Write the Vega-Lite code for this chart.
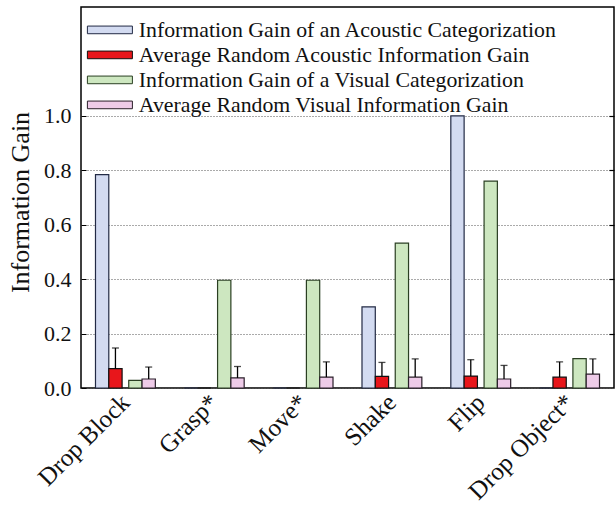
{
  "$schema": "https://vega.github.io/schema/vega-lite/v6.json",
  "width": 533,
  "height": 381,
  "autosize": {"type": "none"},
  "padding": {"left": 81, "top": 7, "right": 1, "bottom": 118},
  "background": "#ffffff",
  "config": {
    "font": "Liberation Serif",
    "view": {"stroke": "#000000", "strokeWidth": 1.5},
    "axis": {"labelColor": "#111111", "titleColor": "#111111", "labelFont": "Liberation Serif", "titleFont": "Liberation Serif"},
    "legend": {"labelFont": "Liberation Serif", "labelColor": "#111111"}
  },
  "data": {
    "values": [
      {"action": "Drop Block", "series": "Information Gain of an Acoustic Categorization", "value": 0.784, "upper": null},
      {"action": "Drop Block", "series": "Average Random Acoustic Information Gain", "value": 0.071, "upper": 0.147},
      {"action": "Drop Block", "series": "Information Gain of a Visual Categorization", "value": 0.028, "upper": null},
      {"action": "Drop Block", "series": "Average Random Visual Information Gain", "value": 0.033, "upper": 0.077},
      {"action": "Grasp*", "series": "Information Gain of an Acoustic Categorization", "value": 0, "upper": null},
      {"action": "Grasp*", "series": "Average Random Acoustic Information Gain", "value": 0, "upper": null},
      {"action": "Grasp*", "series": "Information Gain of a Visual Categorization", "value": 0.396, "upper": null},
      {"action": "Grasp*", "series": "Average Random Visual Information Gain", "value": 0.037, "upper": 0.079},
      {"action": "Move*", "series": "Information Gain of an Acoustic Categorization", "value": 0, "upper": null},
      {"action": "Move*", "series": "Average Random Acoustic Information Gain", "value": 0, "upper": null},
      {"action": "Move*", "series": "Information Gain of a Visual Categorization", "value": 0.396, "upper": null},
      {"action": "Move*", "series": "Average Random Visual Information Gain", "value": 0.040, "upper": 0.096},
      {"action": "Shake", "series": "Information Gain of an Acoustic Categorization", "value": 0.298, "upper": null},
      {"action": "Shake", "series": "Average Random Acoustic Information Gain", "value": 0.043, "upper": 0.094},
      {"action": "Shake", "series": "Information Gain of a Visual Categorization", "value": 0.532, "upper": null},
      {"action": "Shake", "series": "Average Random Visual Information Gain", "value": 0.040, "upper": 0.107},
      {"action": "Flip", "series": "Information Gain of an Acoustic Categorization", "value": 1.0, "upper": null},
      {"action": "Flip", "series": "Average Random Acoustic Information Gain", "value": 0.044, "upper": 0.104},
      {"action": "Flip", "series": "Information Gain of a Visual Categorization", "value": 0.760, "upper": null},
      {"action": "Flip", "series": "Average Random Visual Information Gain", "value": 0.033, "upper": 0.083},
      {"action": "Drop Object*", "series": "Information Gain of an Acoustic Categorization", "value": 0, "upper": null},
      {"action": "Drop Object*", "series": "Average Random Acoustic Information Gain", "value": 0.040, "upper": 0.096},
      {"action": "Drop Object*", "series": "Information Gain of a Visual Categorization", "value": 0.108, "upper": null},
      {"action": "Drop Object*", "series": "Average Random Visual Information Gain", "value": 0.051, "upper": 0.107}
    ]
  },
  "encoding": {
    "x": {
      "field": "action",
      "type": "nominal",
      "sort": ["Drop Block", "Grasp*", "Move*", "Shake", "Flip", "Drop Object*"],
      "scale": {"paddingInner": 0.2514, "paddingOuter": 0.1257},
      "axis": {"title": null, "labelAngle": -45, "labelAlign": "right", "labelBaseline": "middle", "labelFontSize": 25, "ticks": false, "domain": false, "labelPadding": 10, "labelLimit": 0}
    },
    "xOffset": {
      "field": "series",
      "type": "nominal",
      "scale": {
        "domain": ["_p0", "Information Gain of an Acoustic Categorization", "_p1", "Average Random Acoustic Information Gain", "_p2", "_p3", "Information Gain of a Visual Categorization", "_p4", "Average Random Visual Information Gain", "_p5"],
        "paddingInner": 0,
        "paddingOuter": 0
      }
    }
  },
  "layer": [
    {
      "mark": {"type": "bar", "width": 13.3, "strokeWidth": 1.2},
      "encoding": {
        "y": {
          "field": "value",
          "type": "quantitative",
          "scale": {"domain": [0, 1.4], "nice": false, "zero": true},
          "axis": {
            "values": [0, 0.2, 0.4, 0.6, 0.8, 1.0],
            "format": ".1f",
            "title": "Information Gain",
            "titleFontSize": 26,
            "titleFontWeight": "normal",
            "titleAngle": -90,
            "titleAlign": "center",
            "titleBaseline": "middle",
            "titleX": -61,
            "titleY": 195,
            "labelFontSize": 22,
            "labelPadding": 15,
            "grid": true,
            "gridDash": [1, 2],
            "gridColor": "#555555",
            "gridWidth": 1,
            "tickSize": -5,
            "tickColor": "#000000",
            "domain": false
          }
        },
        "fill": {
          "field": "series",
          "type": "nominal",
          "scale": {
            "domain": ["Information Gain of an Acoustic Categorization", "Average Random Acoustic Information Gain", "Information Gain of a Visual Categorization", "Average Random Visual Information Gain"],
            "range": ["#d3dbf1", "#e8161b", "#cde7c0", "#eecbe8"]
          },
          "legend": {
            "orient": "none",
            "legendX": 18,
            "legendY": 12,
            "title": null,
            "padding": 0,
            "symbolType": "M-3,-0.51H3V0.51H-3Z",
            "symbolSize": 225,
            "symbolStrokeWidth": 1,
            "labelFontSize": 21.8,
            "labelOffset": 18,
            "labelLimit": 0,
            "rowPadding": 2
          }
        },
        "stroke": {
          "field": "series",
          "type": "nominal",
          "scale": {
            "domain": ["Information Gain of an Acoustic Categorization", "Average Random Acoustic Information Gain", "Information Gain of a Visual Categorization", "Average Random Visual Information Gain"],
            "range": ["#222a44", "#111111", "#2a3f22", "#2a1f2a"]
          },
          "legend": {
            "orient": "none",
            "legendX": 18,
            "legendY": 12,
            "title": null,
            "padding": 0,
            "symbolType": "M-3,-0.51H3V0.51H-3Z",
            "symbolSize": 225,
            "symbolStrokeWidth": 1,
            "labelFontSize": 21.8,
            "labelOffset": 18,
            "labelLimit": 0,
            "rowPadding": 2
          }
        }
      }
    },
    {
      "transform": [{"filter": "datum.upper != null"}],
      "mark": {"type": "rule", "strokeWidth": 1.3, "color": "#000000"},
      "encoding": {
        "y": {"field": "value", "type": "quantitative", "scale": {"domain": [0, 1.4], "nice": false}, "axis": null},
        "y2": {"field": "upper"}
      }
    },
    {
      "transform": [{"filter": "datum.upper != null"}],
      "mark": {"type": "tick", "orient": "horizontal", "size": 7, "thickness": 1.3, "color": "#000000"},
      "encoding": {
        "y": {
          "field": "upper",
          "type": "quantitative",
          "scale": {"domain": [0, 1.4], "nice": false},
          "axis": {"orient": "right", "values": [0.2, 0.4, 0.6, 0.8, 1.0], "labels": false, "title": null, "grid": false, "domain": false, "tickSize": -5, "tickWidth": 1.2, "tickColor": "#000000"}
        }
      }
    }
  ],
  "resolve": {"axis": {"y": "independent"}}
}
